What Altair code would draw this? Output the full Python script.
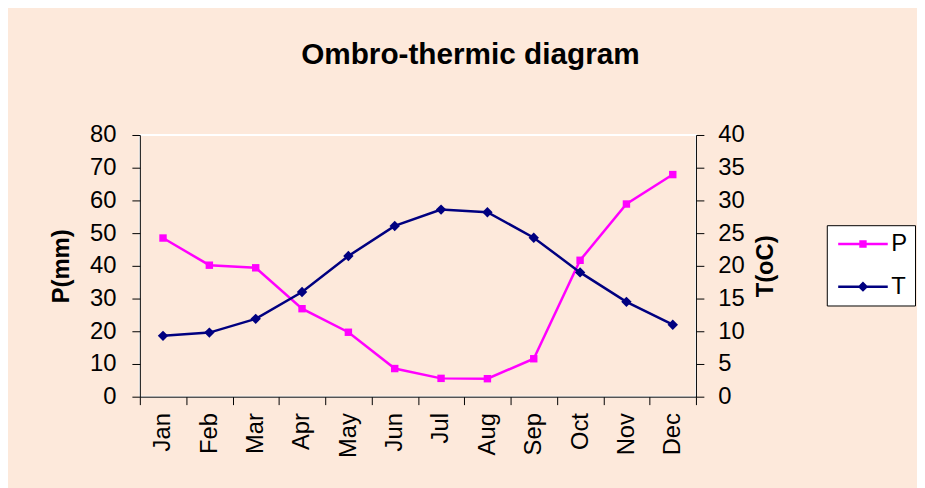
import altair as alt
import pandas as pd

months = ["Jan", "Feb", "Mar", "Apr", "May", "Jun", "Jul", "Aug", "Sep", "Oct", "Nov", "Dec"]
precip = [48.5, 40.2, 39.4, 26.9, 19.7, 8.6, 5.6, 5.5, 11.6, 41.7, 58.9, 67.9]
temp = [9.3, 9.8, 11.9, 16.0, 21.5, 26.1, 28.6, 28.2, 24.3, 19.0, 14.5, 11.0]
series = ["P", "T"]
p_ticks = [0, 10, 20, 30, 40, 50, 60, 70, 80]
t_ticks = [0, 5, 10, 15, 20, 25, 30, 35, 40]

df = pd.DataFrame({"month": months, "P": precip, "T": temp})

FONT = "Liberation Sans"
MAGENTA = "#FF00FF"
NAVY = "#000080"
BG = "#FDE9DB"

x_enc = alt.X(
    "month:N",
    sort=months,
    bandPosition=0.5,
    scale=alt.Scale(type="band", paddingInner=0, paddingOuter=0),
    axis=alt.Axis(
        title=None, labelAngle=-90, labelFontSize=24, labelFont=FONT, labelColor="black",
        tickBand="extent", tickSize=8, tickColor="black", domainColor="black",
        labelPadding=8, grid=False,
    ),
)

p_y = alt.Y(
    "P:Q",
    scale=alt.Scale(domain=[0, 80], nice=False),
    axis=alt.Axis(
        values=p_ticks, title="P(mm)", titleFontSize=24, titleFont=FONT, titleFontWeight="bold",
        titleColor="black", labelFontSize=24, labelFont=FONT, labelColor="black",
        tickSize=8, tickColor="black", domainColor="black", labelPadding=16,
        titlePadding=16, grid=False, orient="left",
    ),
)
t_y = alt.Y(
    "T:Q",
    scale=alt.Scale(domain=[0, 40], nice=False),
    axis=alt.Axis(
        values=t_ticks, title="T(oC)", titleFontSize=24, titleFont=FONT, titleFontWeight="bold",
        titleColor="black", titleAngle=270, titleBaseline="top",
        labelFontSize=24, labelFont=FONT, labelColor="black",
        tickSize=8, tickColor="black", domainColor="black", labelPadding=14,
        titlePadding=10, grid=False, orient="right",
    ),
)

base = alt.Chart(df)
p_line = base.mark_line(color=MAGENTA, strokeWidth=2.5).encode(x=x_enc, y=p_y)
p_pts = base.mark_point(shape="square", filled=True, size=56, color=MAGENTA, opacity=1).encode(x=x_enc, y=p_y)
t_line = base.mark_line(color=NAVY, strokeWidth=2.5).encode(x=x_enc, y=t_y)
t_pts = base.mark_point(shape="diamond", filled=True, size=110, color=NAVY, opacity=1).encode(x=x_enc, y=t_y)

path_p = "M-3.571,-0.18H3.571V0.18H-3.571Z M-0.53,-0.53H0.53V0.53H-0.53Z"
path_t = "M-3.571,-0.18H3.571V0.18H-3.571Z M0,-0.75L0.75,0L0,0.75L-0.75,0Z"

legend_props = dict(
    title=None, orient="none", legendX=693, legendY=91,
    fillColor="white", strokeColor="black", padding=7,
    symbolSize=196, symbolStrokeWidth=0, symbolOffset=17.5,
    labelOffset=16.5, labelFontSize=24, labelFont=FONT, labelColor="black",
    rowPadding=19, symbolOpacity=1,
)

legend_layer = (
    base.transform_fold(["P", "T"], as_=["series", "val"])
    .transform_filter("false")
    .mark_point(filled=True, opacity=1)
    .encode(
        color=alt.Color(
            "series:N",
            scale=alt.Scale(domain=series, range=[MAGENTA, NAVY]),
            legend=alt.Legend(**legend_props),
        ),
        shape=alt.Shape(
            "series:N",
            scale=alt.Scale(domain=series, range=[path_p, path_t]),
            legend=alt.Legend(**legend_props),
        ),
    )
)

chart = (
    alt.layer(
        alt.layer(p_line, p_pts),
        alt.layer(t_line, t_pts),
        legend_layer,
    )
    .resolve_scale(y="independent")
    .properties(
        width=561,
        height=264,
        autosize=alt.AutoSizeParams(type="none"),
        padding={"left": 133, "top": 126, "right": 223, "bottom": 90},
        background=BG,
        title=alt.TitleParams(
            "Ombro-thermic diagram", font=FONT, fontSize=30, fontWeight="bold", color="black",
            anchor="middle", frame="group", dx=53, offset=30, baseline="alphabetic",
        ),
    )
    .configure_view(stroke="white", strokeWidth=2)
)

chart.save("out.html", embed_options={"renderer": "svg", "actions": False})
